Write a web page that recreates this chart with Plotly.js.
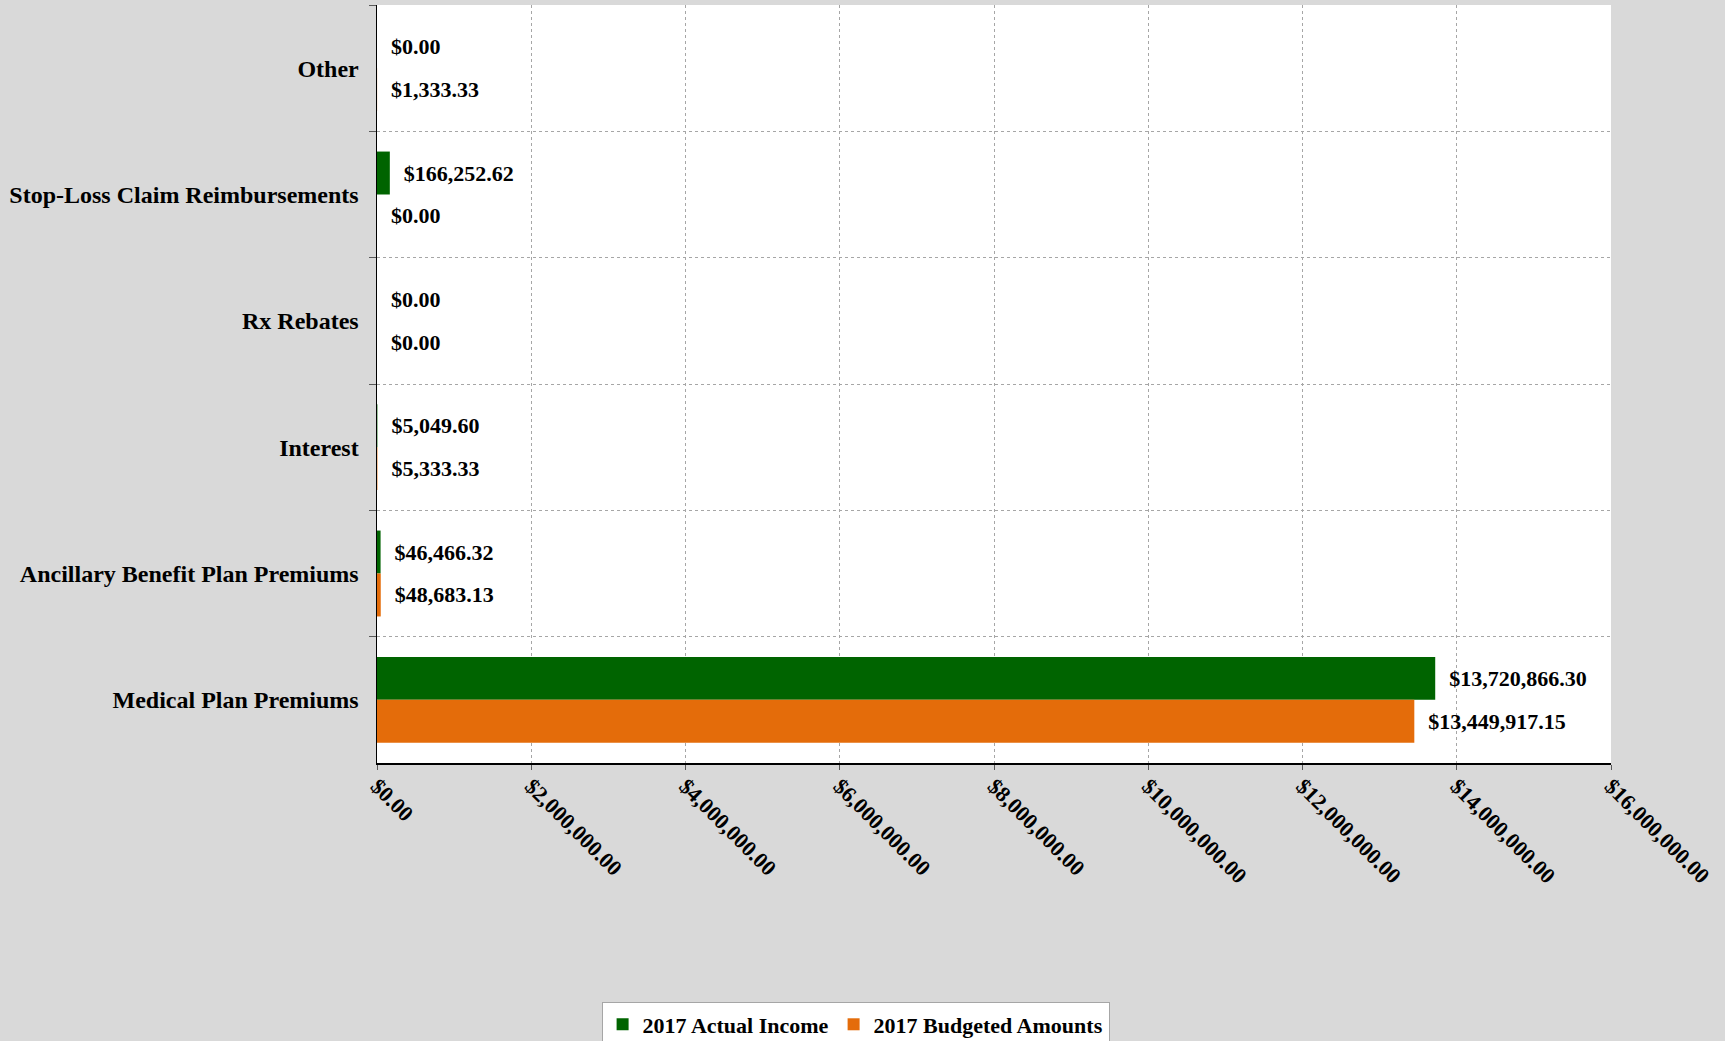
<!DOCTYPE html>
<html>
<head>
<meta charset="utf-8">
<script src="https://cdn.plot.ly/plotly-3.0.1.min.js"></script>
<style>html,body{margin:0;padding:0;background:#D9D9D9;}#chart{width:1725px;height:1041px;}</style>
</head>
<body>
<div id="chart"></div>
<script>
// Categories listed top to bottom
const categories = ["Other", "Stop-Loss Claim Reimbursements", "Rx Rebates", "Interest", "Ancillary Benefit Plan Premiums", "Medical Plan Premiums"];
const actualIncome = [0, 166252.62, 0, 5049.60, 46466.32, 13720866.30];
const budgetedAmounts = [1333.33, 0, 0, 5333.33, 48683.13, 13449917.15];
const seriesNames = ["2017 Actual Income", "2017 Budgeted Amounts"];
const xTickVals = [0, 2000000, 4000000, 6000000, 8000000, 10000000, 12000000, 14000000, 16000000];
const xTickText = xTickVals.map(v => "$" + v.toLocaleString("en-US", {minimumFractionDigits: 2, maximumFractionDigits: 2}));

const FONT = "Liberation Serif, Times New Roman, serif";
const labelFont = {family: FONT, size: 22, color: "#000", weight: 700};

function barTrace(name, values, color) {
  return {
    type: "bar",
    orientation: "h",
    name: name,
    y: categories,
    x: values,
    marker: {color: color, line: {width: 0}},
    texttemplate: "\u00a0\u00a0$%{x:,.2f}",
    textposition: "outside",
    textfont: labelFont,
    outsidetextfont: labelFont,
    constraintext: "none",
    cliponaxis: false,
    hoverinfo: "x+y+name"
  };
}

const data = [
  barTrace(seriesNames[0], actualIncome, "#006400"),
  barTrace(seriesNames[1], budgetedAmounts, "#E46C0A")
];

const layout = {
  width: 1725,
  height: 1041,
  paper_bgcolor: "#D9D9D9",
  plot_bgcolor: "#FFFFFF",
  font: {family: FONT, color: "#000", weight: 700},
  margin: {l: 377, r: 114, t: 5, b: 278, pad: 0},
  barmode: "group",
  bargap: 0.32,
  bargroupgap: 0,
  showlegend: true,
  xaxis: {
    range: [0, 16000000],
    tickmode: "array",
    tickvals: xTickVals,
    ticktext: xTickText,
    tickangle: 45,
    tickfont: {family: FONT, size: 22, color: "#000", weight: 700},
    ticks: "outside",
    ticklen: 5,
    tickcolor: "#595959",
    ticklabelstandoff: -5,
    showline: true,
    linecolor: "#000",
    linewidth: 1.5,
    showgrid: true,
    gridcolor: "#A6A6A6",
    gridwidth: 1,
    griddash: "dot",
    zeroline: false,
    fixedrange: true
  },
  yaxis: {
    type: "category",
    autorange: "reversed",
    tickson: "boundaries",
    tickfont: {family: FONT, size: 24, color: "#000", weight: 700},
    ticks: "outside",
    ticklen: 7,
    tickcolor: "#595959",
    ticklabelstandoff: 12,
    showline: true,
    linecolor: "#000",
    linewidth: 1.5,
    showgrid: true,
    gridcolor: "#A6A6A6",
    gridwidth: 1,
    griddash: "dot",
    zeroline: false,
    fixedrange: true
  },
  legend: {
    orientation: "h",
    xref: "container",
    yref: "container",
    x: 0.496,
    xanchor: "center",
    y: 0.037,
    yanchor: "top",
    bgcolor: "#FFFFFF",
    bordercolor: "#A6A6A6",
    borderwidth: 1,
    font: {family: FONT, size: 22, color: "#000", weight: 700},
    itemwidth: 30
  }
};

Plotly.newPlot("chart", data, layout, {displayModeBar: false, staticPlot: true});
</script>
</body>
</html>
